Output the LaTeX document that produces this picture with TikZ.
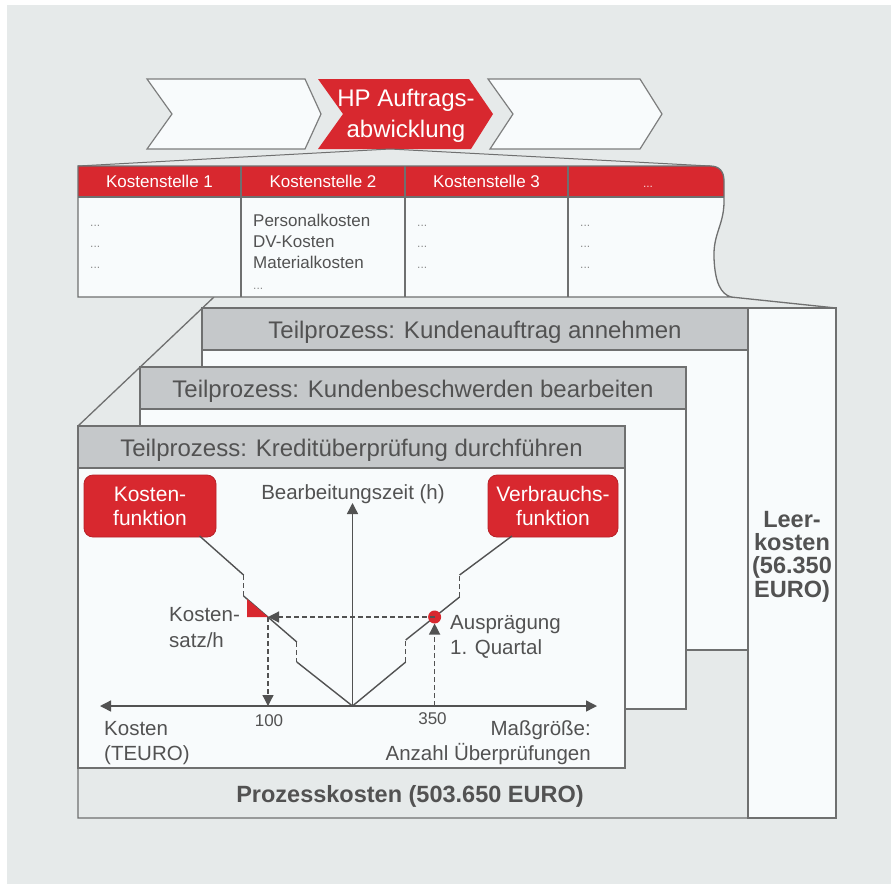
\documentclass[tikz,border=0pt]{standalone}
\usepackage{fontspec}
\setmainfont{Liberation Sans}
\usetikzlibrary{arrows.meta}

\definecolor{canvas}{HTML}{E6EAEA}
\definecolor{hpred}{HTML}{D8282F}
\definecolor{hdrgray}{HTML}{C5C8CA}
\definecolor{frame}{HTML}{6F7070}
\definecolor{paper}{HTML}{F8FBFC}
\definecolor{ink}{HTML}{525252}
\definecolor{dotgray}{HTML}{8C8C8C}

\newcommand\fsHead{\fontsize{24}{28}\selectfont}
\newcommand\fsCell{\fontsize{17}{21}\selectfont}
\newcommand\fsLab{\fontsize{20.5}{25}\selectfont}
\newcommand\fsTag{\fontsize{21}{24}\selectfont}
\newcommand\fsNum{\fontsize{17}{20}\selectfont}
\newcommand\fsBold{\fontsize{23.5}{23.2}\selectfont\bfseries}

\begin{document}
\begin{tikzpicture}[x=1pt,y=-1pt,
  outline/.style={draw=frame,line width=1.3pt},
  sheet/.style={outline,fill=paper},
  sheethead/.style={outline,fill=hdrgray},
  chev/.style={draw=frame!90,line width=1.2pt,fill=paper},
  txt/.style={inner sep=0pt,text=ink},
  curve/.style={draw=ink,line width=1.4pt},
  guide/.style={draw=ink,line width=1.2pt,dash pattern=on 5pt off 3pt},
  tip/.style={-{Triangle[length=11pt,width=11pt]}},
  redbox/.style={fill=hpred,draw=hpred!85!black,line width=0.8pt,rounded corners=9pt,
    text=white,font=\fsTag,align=center,inner sep=0pt},
]
% canvas
\useasboundingbox (0,0) rectangle (891,884);
\fill[white] (0,0) rectangle (891,884);
\fill[canvas] (7,5) rectangle (891,884);

% process chain
\draw[chev] (147,79) -- (305,79) -- (321,114) -- (305,149) -- (147,149) -- (172,114) -- cycle;
\fill[hpred] (318,79) -- (469,79) -- (493,114) -- (471,149) -- (318,149) -- (343,114) -- cycle;
\draw[chev] (488,79) -- (640,79) -- (662,114) -- (640,149) -- (490,149) -- (513,114) -- cycle;
\node[inner sep=0pt,text=white,font=\fsHead,anchor=base] (hp1) at (406,106) {HP Auftrags-};
\node[inner sep=0pt,text=white,font=\fsHead,anchor=base] (hp2) at (406,137) {abwicklung};

% fan from the process step to the cost centre table
\coordinate (apex) at (390,149);
\coordinate (tabTL) at (78,166);
\coordinate (tabTR) at (710,166);
\draw[frame,line width=1pt] (tabTL) -- (apex) -- (tabTR);

% enclosing frame of the process costs
\coordinate (tabBL) at (214,297);
\coordinate (tabBR) at (731,297);
\coordinate (leerTR) at (836,308);
\draw[outline] (tabBL) -- (78,426) -- (78,818) -- (748,818);
\draw[outline] (tabBR) -- (leerTR);
\draw[sheet] (748,308) rectangle (leerTR |- 0,818);

% stacked sub-process sheets
\draw[sheet] (202,308) rectangle (748,650);
\draw[sheethead] (202,308) rectangle (748,350);
\draw[sheet] (140,367) rectangle (686,709);
\draw[sheethead] (140,367) rectangle (686,409);
\draw[sheet] (78,426) rectangle (625,768);
\draw[sheethead] (78,426) rectangle (625,468);
\node[txt,font=\fsHead,anchor=base] (tp1) at (475,338) {Teilprozess: Kundenauftrag annehmen};
\node[txt,font=\fsHead,anchor=base] (tp2) at (413,397) {Teilprozess: Kundenbeschwerden bearbeiten};
\node[txt,font=\fsHead,anchor=base] (tp3) at (351.5,456) {Teilprozess: Kreditüberprüfung durchführen};

% cost centre table with torn right edge
\fill[paper] (78,166) -- (710,166) .. controls (719,166) and (724,171) .. (724,181) -- (724,197)
  .. controls (725,225) and (713,232) .. (714,258) .. controls (715,283) and (721,294) .. (731,297)
  -- (78,297) -- cycle;
\begin{scope}
  \clip (78,166) -- (710,166) .. controls (719,166) and (724,171) .. (724,181) -- (724,197)
    -- (724,200) -- (78,200) -- cycle;
  \fill[hpred] (70,160) rectangle (740,197);
\end{scope}
\draw[outline] (78,197) -- (724,197);
\draw[outline] (241,166) -- (241,297);
\draw[outline] (405,166) -- (405,297);
\draw[outline] (568,166) -- (568,297);
\draw[outline] (78,166) -- (710,166) .. controls (719,166) and (724,171) .. (724,181) -- (724,197)
  .. controls (725,225) and (713,232) .. (714,258) .. controls (715,283) and (721,294) .. (731,297)
  -- (78,297) -- cycle;

\node[inner sep=0pt,text=white,font=\fsCell,anchor=base] (k1) at (159.5,187.5) {Kostenstelle 1};
\node[inner sep=0pt,text=white,font=\fsCell,anchor=base] (k2) at (323,187.5) {Kostenstelle 2};
\node[inner sep=0pt,text=white,font=\fsCell,anchor=base] (k3) at (486.5,187.5) {Kostenstelle 3};
\node[inner sep=0pt,text=white!80!hpred,font=\fontsize{12}{14}\selectfont,anchor=base] (k4) at (648,187.5) {...};

\foreach \cx/\nm in {90/a,417/c,580/d}{
  \node[inner sep=0pt,text=dotgray,font=\fontsize{12}{14}\selectfont,anchor=base west] (\nm1) at (\cx,226) {...};
  \node[inner sep=0pt,text=dotgray,font=\fontsize{12}{14}\selectfont,anchor=base west] (\nm2) at (\cx,247) {...};
  \node[inner sep=0pt,text=dotgray,font=\fontsize{12}{14}\selectfont,anchor=base west] (\nm3) at (\cx,268) {...};
}
\node[txt,font=\fsCell,anchor=base west] (b1) at (253,226) {Personalkosten};
\node[txt,font=\fsCell,anchor=base west] (b2) at (253,247) {DV-Kosten};
\node[txt,font=\fsCell,anchor=base west] (b3) at (253,268) {Materialkosten};
\node[inner sep=0pt,text=dotgray,font=\fontsize{12}{14}\selectfont,anchor=base west] (b4) at (253,289) {...};

% cost and consumption function
\node[redbox,minimum width=132pt,minimum height=62pt] (kf) at (150,506) {Kosten-\\funktion};
\node[redbox,minimum width=130pt,minimum height=62pt] (vf) at (553,506) {Verbrauchs-\\funktion};

\coordinate (xl) at (100,706);
\coordinate (xr) at (597,706);
\coordinate (o) at (352.5,706);
\coordinate (yt) at (352.5,503);
\draw[curve,{Triangle[length=11pt,width=11pt]}-{Triangle[length=11pt,width=11pt]}] (xl) -- (xr);
\draw[curve,tip] (o) -- (yt);

% left branch (cost function)
\coordinate (l0) at (199.6,536);
\coordinate (l1) at (243.6,575);
\coordinate (l2) at (243.6,596);
\coordinate (l3) at (296.8,642);
\coordinate (l4) at (296.8,662);
\draw[curve] (l0) -- (l1);
\draw[guide] (l1) -- (l2);
\draw[curve] (l2) -- (l3);
\draw[guide] (l3) -- (l4);
\draw[curve] (l4) -- (o);
% right branch (consumption function)
\coordinate (r0) at (512,536);
\coordinate (r1) at (459.6,575);
\coordinate (r2) at (459.6,597);
\coordinate (r3) at (405.7,640);
\coordinate (r4) at (405.7,662);
\draw[curve] (o) -- (r4);
\draw[guide] (r4) -- (r3);
\draw[curve] (r3) -- (r2);
\draw[guide] (r2) -- (r1);
\draw[curve] (r1) -- (r0);

% reading the rate
\coordinate (kp) at (268,617);
\coordinate (dot) at (434.6,617);
\fill[hpred] (247,599) -- (kp) -- (247,617) -- cycle;
\fill[hpred] (dot) circle (6.5pt);
\draw[guide,tip] (dot) -- (kp);
\draw[guide,tip] (kp) -- (kp |- xl);
\draw[guide,tip] (dot |- xl) -- ([yshift=-6.5pt]dot);

\node[txt,font=\fsLab,anchor=base] (bz) at (353,499) {Bearbeitungszeit (h)};
\node[txt,font=\fsLab,anchor=base west] (ks1) at (169,621) {Kosten-};
\node[txt,font=\fsLab,anchor=base west] (ks2) at (169,647) {satz/h};
\node[txt,font=\fsLab,anchor=base west] (au1) at (450,629) {Ausprägung};
\node[txt,font=\fsLab,anchor=base west] (au2) at (450,654) {1. Quartal};
\node[txt,font=\fsNum,anchor=base] (n100) at (269,726) {100};
\node[txt,font=\fsNum,anchor=base] (n350) at (432.5,724) {350};
\node[txt,font=\fsLab,anchor=base west] (ko1) at (104,735) {Kosten};
\node[txt,font=\fsLab,anchor=base west] (ko2) at (104,760) {(TEURO)};
\node[txt,font=\fsLab,anchor=base east] (mg1) at (591,735) {Maßgröße:};
\node[txt,font=\fsLab,anchor=base east] (mg2) at (591,760) {Anzahl Überprüfungen};

% totals
\node[txt,font=\fsBold,anchor=base] (pk) at (410,802.5) {Prozesskosten (503.650 EURO)};
\node[txt,font=\fsBold,anchor=base] (lk1) at (792,527.5) {Leer-};
\node[txt,font=\fsBold,anchor=base] (lk2) at (792,550.5) {kosten};
\node[txt,font=\fsBold,anchor=base] (lk3) at (792,573.5) {(56.350};
\node[txt,font=\fsBold,anchor=base] (lk4) at (792,597.5) {EURO)};
\end{tikzpicture}
\end{document}
